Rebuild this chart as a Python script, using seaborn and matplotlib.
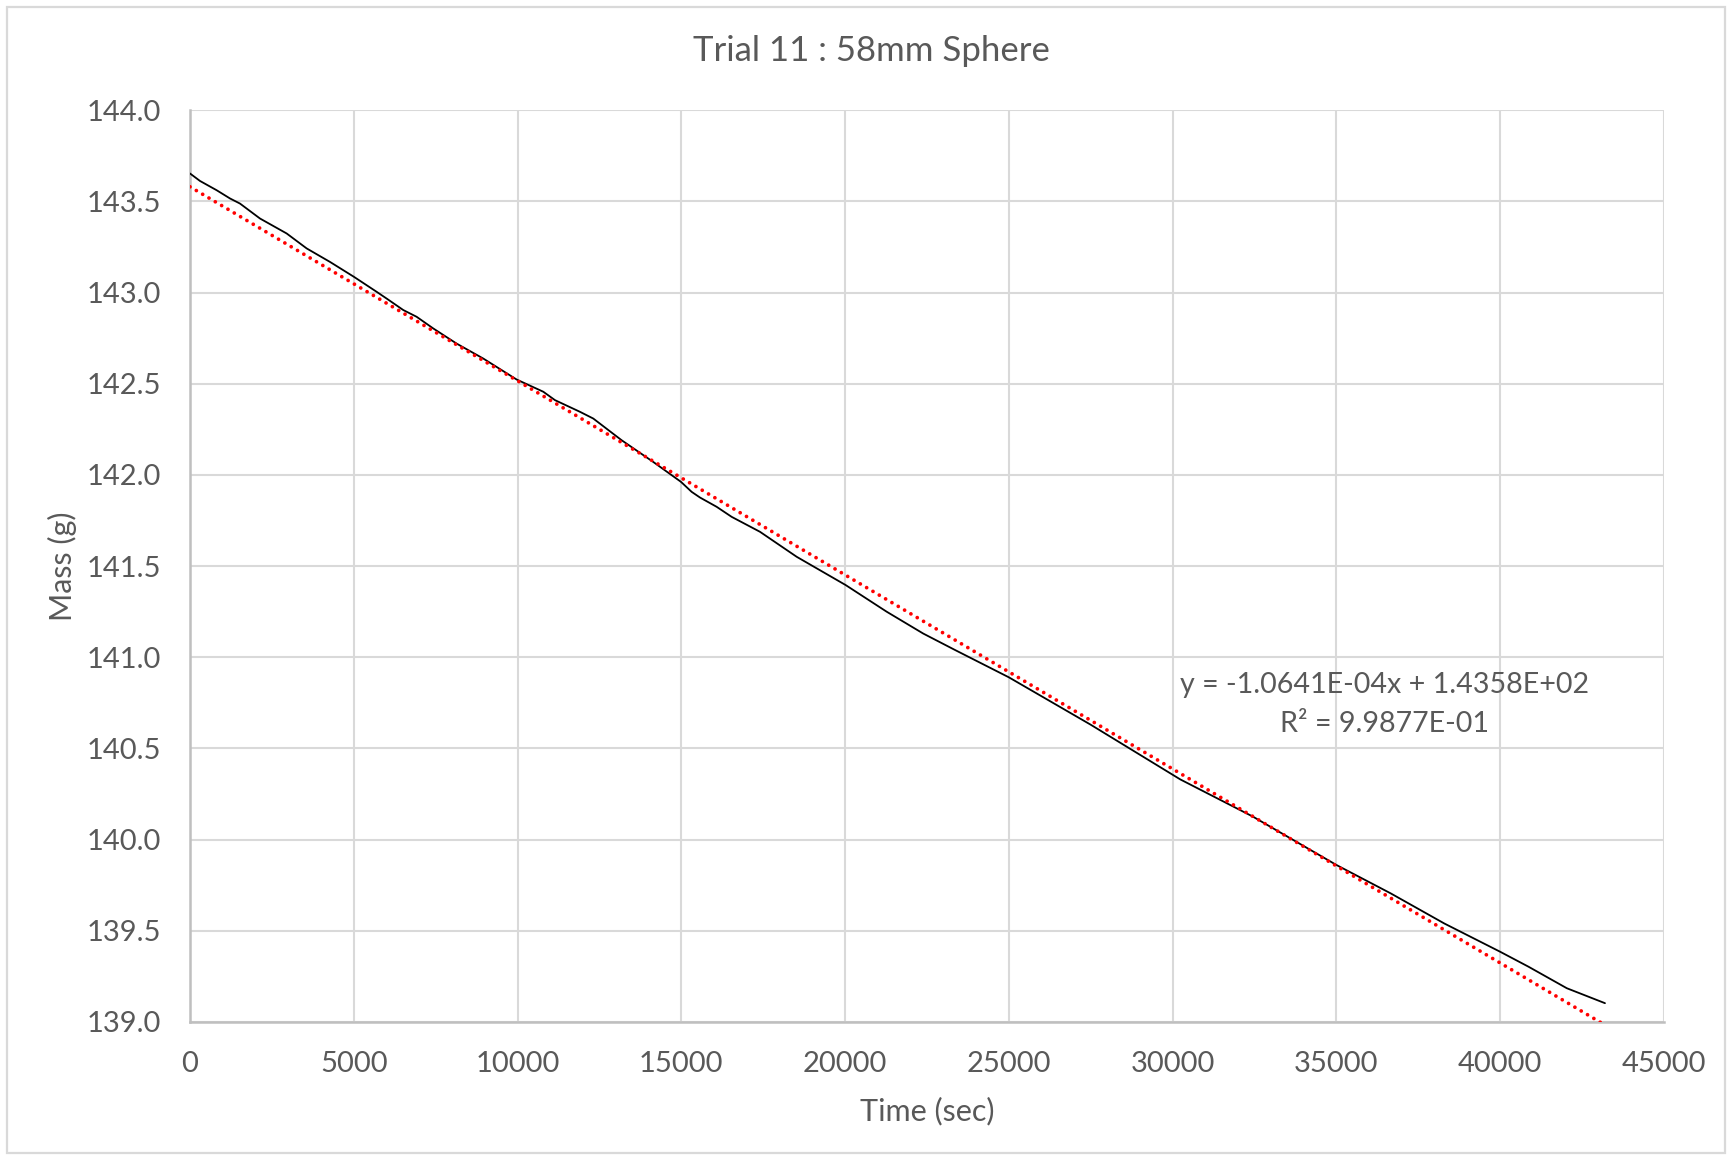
import matplotlib
matplotlib.use("Agg")
import matplotlib.pyplot as plt
import seaborn as sns
import pandas as pd
import numpy as np
from matplotlib.patches import Rectangle

# ---- data ----
time_sec = [0, 305, 815, 1221, 1526, 2137, 2951, 3562, 4274, 5007, 5699, 6004, 6512,
            6920, 7428, 8141, 8955, 9973, 10787, 11143, 11906, 12313, 13179, 14144,
            14989, 15316, 15570, 16079, 16537, 17402, 18522, 20017, 21268, 22386,
            23355, 25000, 27500, 30235, 32452, 35000, 36660, 38295, 40000, 40865,
            42035, 43200]
mass_g = [143.653, 143.612, 143.561, 143.516, 143.488, 143.406, 143.324, 143.242,
          143.168, 143.086, 143.004, 142.967, 142.904, 142.867, 142.803, 142.720,
          142.638, 142.523, 142.456, 142.410, 142.346, 142.309, 142.190, 142.071,
          141.962, 141.907, 141.876, 141.825, 141.770, 141.688, 141.551, 141.396,
          141.250, 141.130, 141.040, 140.890, 140.630, 140.330, 140.126, 139.861,
          139.705, 139.540, 139.385, 139.303, 139.185, 139.103]

trend_slope = -1.0641e-04
trend_intercept = 1.4358e+02
trend_x = [0, 43200]

x_ticks = [0, 5000, 10000, 15000, 20000, 25000, 30000, 35000, 40000, 45000]
y_ticks = [139.0, 139.5, 140.0, 140.5, 141.0, 141.5, 142.0, 142.5, 143.0, 143.5, 144.0]

title = "Trial 11 : 58mm Sphere"
x_label = "Time (sec)"
y_label = "Mass (g)"
eq_text = "y = -1.0641E-04x + 1.4358E+02\nR² = 9.9877E-01"

# ---- plotting ----
sns.set_theme(style="whitegrid")
plt.rcParams['font.family'] = ['Lato', 'DejaVu Sans']
text_color = "#595959"

df = pd.DataFrame({"time": time_sec, "mass": mass_g})
trend_df = pd.DataFrame({"time": trend_x,
                         "mass": [trend_slope * t + trend_intercept for t in trend_x]})

fig = plt.figure(figsize=(8.66, 5.80), dpi=200)
ax = fig.add_axes([0.1097, 0.119, 0.851, 0.786])

sns.lineplot(data=df, x="time", y="mass", ax=ax, color="black", linewidth=0.65,
             zorder=3)
sns.lineplot(data=trend_df, x="time", y="mass", ax=ax, color="#ff0000",
             linewidth=1.35, linestyle=(0, (0.01, 1.95)), dash_capstyle="round",
             zorder=4)

ax.set_xlim(0, 45000)
ax.set_ylim(139.0, 144.0)
ax.set_xticks(x_ticks)
ax.set_yticks(y_ticks)
ax.set_xticklabels([str(v) for v in x_ticks])
ax.set_yticklabels([f"{v:.1f}" for v in y_ticks])
ax.tick_params(axis="both", length=0, labelsize=10.5, colors=text_color)
ax.tick_params(axis="y", pad=10.5)
ax.tick_params(axis="x", pad=10.5)

ax.grid(True, color="#d9d9d9", linewidth=0.75)
ax.set_facecolor("white")
for side in ["top", "right"]:
    ax.spines[side].set_visible(False)
for side in ["left", "bottom"]:
    ax.spines[side].set_color("#bfbfbf")
    ax.spines[side].set_linewidth(0.9)

ax.set_xlabel(x_label, fontsize=11, color=text_color)
ax.set_ylabel(y_label, fontsize=11, color=text_color)
ax.xaxis.label.set_va("center")
ax.yaxis.label.set_va("center")
ax.xaxis.set_label_coords(0.5, -0.0975)
ax.yaxis.set_label_coords(-0.0868, 0.5)
fig.text(0.503, 0.956, title, ha="center", va="center", fontsize=12.5,
         color=text_color)

ax.text(36480, 140.74, eq_text, ha="center", va="center", multialignment="center",
        fontsize=10.3, color=text_color, linespacing=1.6, zorder=5)

fig.patches.append(Rectangle((0.004, 0.006), 0.992, 0.988, transform=fig.transFigure,
                             fill=False, edgecolor="#d9d9d9", linewidth=0.8))

fig.savefig("out.png", dpi=200, facecolor="white")
